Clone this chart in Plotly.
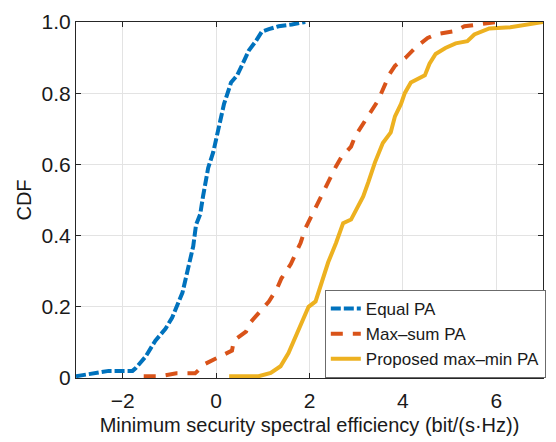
import plotly.graph_objects as go

# Equal PA
eq_x = [-3.0, -2.83, -2.57, -2.3, -1.79, -1.72, -1.51, -1.30, -1.085, -0.94, -0.72, -0.60, -0.49, -0.43, -0.34,
        -0.28, -0.17, -0.06, 0.02, 0.09, 0.17, 0.32, 0.45, 0.56, 0.70, 0.85, 0.98, 1.13, 1.34, 1.62, 1.91]
eq_y = [0.005, 0.008, 0.014, 0.02, 0.02, 0.028, 0.06, 0.105, 0.138, 0.17, 0.24, 0.31, 0.37, 0.43, 0.46,
        0.51, 0.59, 0.635, 0.68, 0.725, 0.77, 0.83, 0.85, 0.88, 0.92, 0.946, 0.973, 0.98, 0.988, 0.993, 1.0]

# Max-sum PA
ms_x = [-1.55, -1.2, -0.85, -0.45, -0.23, 0.0, 0.34, 0.38, 0.64, 0.74, 1.02, 1.13, 1.30, 1.40, 1.60, 1.68,
        1.81, 1.91, 2.04, 2.15, 2.30, 2.40, 2.57, 2.68, 2.89, 2.98, 3.19, 3.30, 3.47, 3.57, 3.72, 3.83,
        4.06, 4.26, 4.53, 4.70, 5.13, 5.32, 5.74, 6.02]
ms_y = [0.005, 0.005, 0.013, 0.013, 0.04, 0.055, 0.077, 0.105, 0.13, 0.157, 0.2, 0.215, 0.25, 0.28, 0.32, 0.345,
        0.38, 0.42, 0.455, 0.48, 0.52, 0.55, 0.595, 0.62, 0.65, 0.68, 0.72, 0.745, 0.78, 0.81, 0.855, 0.877,
        0.90, 0.927, 0.955, 0.965, 0.975, 0.988, 0.996, 1.0]

# Proposed max-min PA
pm_x = [0.28, 0.91, 1.17, 1.38, 1.55, 1.70, 1.83, 1.98, 2.13, 2.26, 2.40, 2.57, 2.72, 2.89, 3.04, 3.15,
        3.26, 3.40, 3.57, 3.74, 3.83, 3.96, 4.04, 4.17, 4.47, 4.57, 4.70, 4.91, 5.13, 5.38, 5.53, 5.70,
        5.85, 6.30, 6.51, 6.72, 7.0]
pm_y = [0.005, 0.005, 0.014, 0.033, 0.07, 0.115, 0.15, 0.2, 0.215, 0.27, 0.325, 0.38, 0.435, 0.445, 0.48, 0.51,
        0.55, 0.605, 0.66, 0.69, 0.735, 0.77, 0.80, 0.83, 0.85, 0.883, 0.91, 0.927, 0.94, 0.946, 0.965, 0.975,
        0.982, 0.985, 0.99, 0.996, 1.0]

x_ticks = [-2, 0, 2, 4, 6]
y_ticks = [0, 0.2, 0.4, 0.6, 0.8, 1.0]
y_tick_labels = ["0", "0.2", "0.4", "0.6", "0.8", "1.0"]

FONT = "Liberation Sans, Arial, Helvetica, sans-serif"

fig = go.Figure()
fig.add_trace(go.Scatter(x=eq_x, y=eq_y, mode="lines", name="Equal PA",
                         line=dict(color="#0072BD", width=4, dash="10px,3px")))
fig.add_trace(go.Scatter(x=ms_x, y=ms_y, mode="lines", name="Max\u2013sum PA",
                         line=dict(color="#D95319", width=4, dash="12px,10px")))
fig.add_trace(go.Scatter(x=pm_x, y=pm_y, mode="lines", name="Proposed max\u2013min PA",
                         line=dict(color="#EDB120", width=4)))

axis_common = dict(showgrid=True, gridcolor="#e3e3e3", gridwidth=1, showline=True, linecolor="#262626",
                   linewidth=1, mirror="ticks", ticks="inside", ticklen=5, tickcolor="#262626",
                   tickfont=dict(family=FONT, size=21, color="#1a1a1a"), zeroline=False)

fig.update_layout(
    width=556, height=442,
    margin=dict(l=76, r=10, t=17, b=62),
    plot_bgcolor="white", paper_bgcolor="white",
    font=dict(family=FONT, color="#1a1a1a"),
    xaxis=dict(range=[-3, 7], tickvals=x_ticks, ticklabelstandoff=4,
               title=dict(text="Minimum security spectral efficiency (bit/(s\u00b7Hz))", font=dict(family=FONT, size=20), standoff=6),
               **axis_common),
    yaxis=dict(range=[0, 1], tickvals=y_ticks, ticktext=y_tick_labels,
               title=dict(text="CDF", font=dict(family=FONT, size=20), standoff=4),
               **axis_common),
    legend=dict(x=1.006, y=0, xanchor="right", yanchor="bottom", bgcolor="white",
                bordercolor="#6b6b6b", borderwidth=1, font=dict(family=FONT, size=17, color="#1a1a1a")),
    showlegend=True,
)

fig.write_html("out.html")
